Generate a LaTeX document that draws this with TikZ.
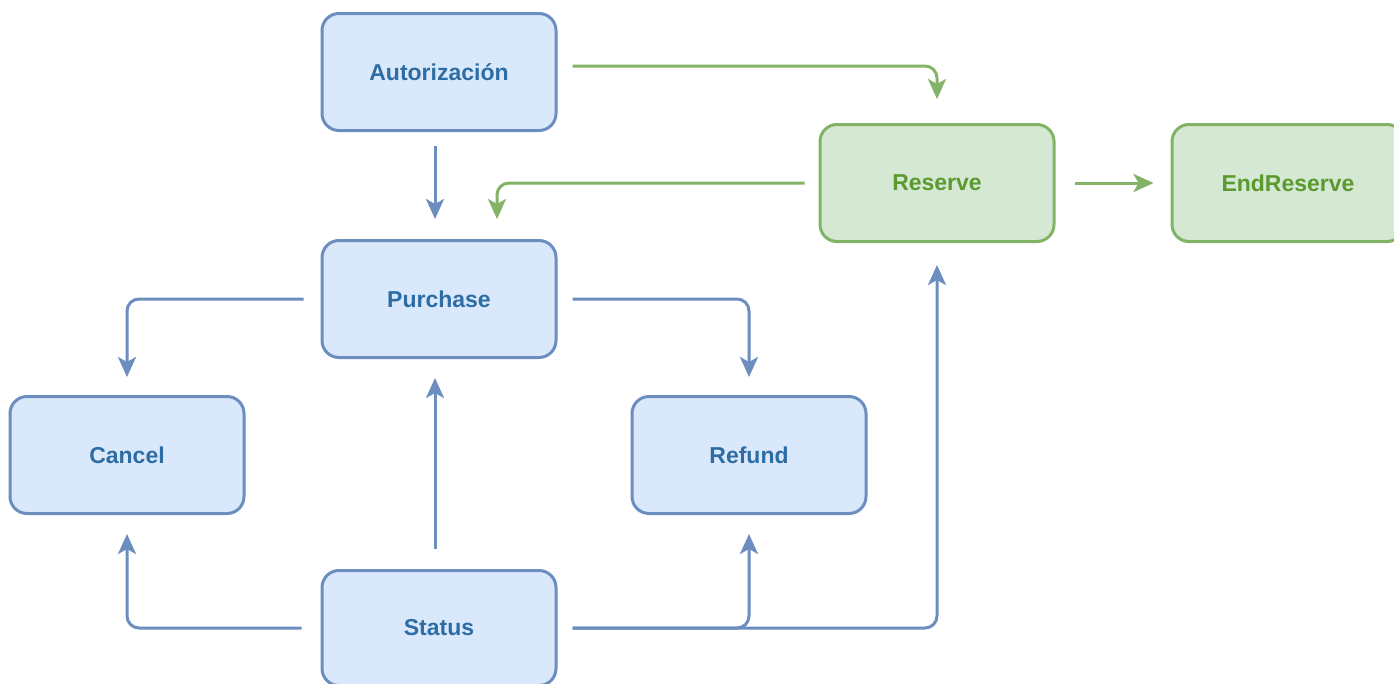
\documentclass[tikz,border=0pt]{standalone}
\usepackage{fontspec}
\setmainfont{Liberation Sans}
\usetikzlibrary{arrows.meta}
\definecolor{bfill}{HTML}{DAE8FC}
\definecolor{bline}{HTML}{6C8EBF}
\definecolor{btext}{HTML}{2E6DA4}
\definecolor{gfill}{HTML}{D5E8D4}
\definecolor{gline}{HTML}{82B366}
\definecolor{gtext}{HTML}{5B9A2E}
\tikzset{
  box/.style={draw, rounded corners=17pt, line width=3pt, minimum width=234pt, minimum height=117pt,
    inner sep=0pt, font=\fontsize{23}{27}\selectfont\bfseries},
  bbox/.style={box, fill=bfill, draw=bline, text=btext},
  gbox/.style={box, fill=gfill, draw=gline, text=gtext},
  conn/.style={line width=3pt, rounded corners=12pt, -{Stealth[length=20pt,width=18pt,inset=5pt]}},
  bconn/.style={conn, draw=bline},
  gconn/.style={conn, draw=gline},
}
\begin{document}
\begin{tikzpicture}[x=1pt,y=-1pt]
\clip (0,0) rectangle (1394,683);
\fill[white] (0,0) rectangle (1394,683);
\node[bbox] (aut) at (439,72) {Autorización};
\node[bbox] (pur) at (439,299) {Purchase};
\node[bbox] (can) at (127,455) {Cancel};
\node[bbox] (ref) at (749,455) {Refund};
\node[bbox, minimum height=115pt] (sta) at (439,628) {Status};
\node[gbox] (res) at (937,183) {Reserve};
\node[gbox, minimum width=232pt] (end) at (1288,183) {EndReserve};

\draw[bconn, shorten <=14pt, shorten >=20pt] ([xshift=-4pt]aut.south) -- ([xshift=-4pt]pur.north);
\draw[gconn, shorten <=15pt, shorten >=24pt] ([yshift=6pt]aut.east) -| (res.north);
\draw[gconn, shorten <=14pt, shorten >=20pt] (res.west) -| ([xshift=58pt]pur.north);
\draw[gconn, shorten <=19pt, shorten >=17pt] (res.east) -- (end.west);
\draw[bconn, shorten <=17pt, shorten >=18pt] (pur.west) -| (can.north);
\draw[bconn, shorten <=15pt, shorten >=18pt] (pur.east) -| (ref.north);
\draw[bconn, shorten <=20pt, shorten >=19pt] ([xshift=-4pt]sta.north) -- ([xshift=-4pt]pur.south);
\draw[bconn, shorten <=19pt, shorten >=19pt] (sta.west) -| (can.south);
\draw[bconn, shorten <=15pt, shorten >=19pt] (sta.east) -| (ref.south);
\draw[bconn, shorten <=15pt, shorten >=22pt] (sta.east) -| (res.south);
\end{tikzpicture}
\end{document}
